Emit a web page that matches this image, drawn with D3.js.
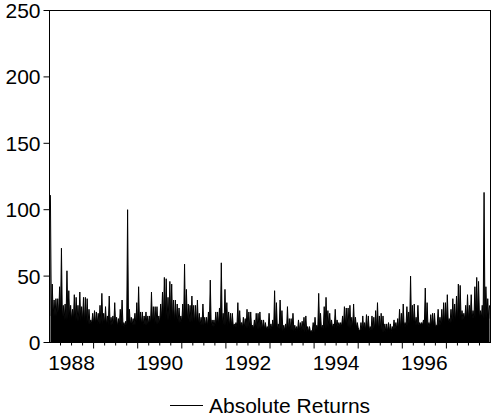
<!DOCTYPE html>
<html>
<head>
<meta charset="utf-8">
<script src="https://cdn.jsdelivr.net/npm/d3@7"></script>
<style>
  body { margin: 0; background: #fff; }
  text { font-family: "Liberation Sans", Arial, sans-serif; fill: #000; }
</style>
</head>
<body>
<div id="chart"></div>
<script>

// semi-monthly peaks of the daily absolute returns (24 per year)
var r1988 = [111,44,32,33,33,42,71,28,29,54,39,28,25,36,34,28,38,27,34,34,33,25,17,22];
var r1989 = [24,23,22,28,37,22,27,20,35,19,20,30,19,18,25,32,15,16,100,25,19,18,22,30];
var r1990 = [42,23,23,20,23,20,20,38,27,27,27,20,29,38,49,48,34,46,44,32,32,29,26,20];
var r1991 = [29,59,40,29,28,35,28,28,32,22,19,29,19,19,23,47,17,17,23,23,26,60,22,40];
var r1992 = [30,23,22,22,14,15,30,24,15,19,18,25,23,23,13,17,22,22,23,17,17,15,12,22];
var r1993 = [14,17,39,30,14,32,24,13,14,27,18,18,22,13,12,17,15,16,19,20,12,12,9,15];
var r1994 = [19,13,37,22,13,27,34,24,22,17,14,25,17,15,15,20,27,26,26,28,19,29,19,15];
var r1995 = [9,15,20,15,21,20,12,20,19,24,30,20,22,20,14,14,15,14,12,17,15,18,25,22];
var r1996 = [29,15,27,23,50,28,29,19,28,15,15,17,41,30,15,21,22,22,13,25,19,25,30,30];
var r1997 = [36,18,25,33,29,35,44,43,24,22,28,36,28,36,24,42,49,46,24,28,113,42,33,28];

// top of the solid black band under the spikes, per quarter
var band1988 = [20,17,16,14];
var band1989 = [14,13,12,13];
var band1990 = [13,14,17,15];
var band1991 = [15,13,12,13];
var band1992 = [12,11,10,10];
var band1993 = [10,9,9,8];
var band1994 = [10,11,12,11];
var band1995 = [9,9,8,10];
var band1996 = [12,13,12,13];
var band1997 = [15,17,18,18];

var years = [1988,1989,1990,1991,1992,1993,1994,1995,1996,1997];
var yearValues = [r1988,r1989,r1990,r1991,r1992,r1993,r1994,r1995,r1996,r1997];
var yearBands = [band1988,band1989,band1990,band1991,band1992,band1993,band1994,band1995,band1996,band1997];
var yearLabels = [1988,1990,1992,1994,1996];
var yTicks = [0,50,100,150,200,250];
var seriesName = "Absolute Returns";

var width = 492, height = 417;
var margin = {top: 10.5, right: 1.5, bottom: 74.5, left: 49.5};

// flatten to [decimal year, value]: each peak, then the band level before the next one
var data = [];
years.forEach(function(yr, i) {
	var vals = yearValues[i];
	var band = yearBands[i];
	vals.forEach(function(v, j) {
		var q = Math.floor(j / (vals.length / band.length));
		data.push([yr + (j + 0.5) / vals.length, v]);
		data.push([yr + (j + 1) / vals.length, Math.min(band[q], v)]);
	});
});
data.pop();

var svg = d3.select("#chart")
	.append("svg")
	.attr("width", width)
	.attr("height", height);

var x = d3.scaleLinear()
	.domain([1988, 1998])
	.range([margin.left, width - margin.right]);

var y = d3.scaleLinear()
	.domain([0, 250])
	.range([height - margin.bottom, margin.top]);

// the series: filled underneath so the dense band stays solid
var area = d3.area()
	.x(function(d) { return x(d[0]); })
	.y0(y(0))
	.y1(function(d) { return y(d[1]); });

var line = d3.line()
	.x(function(d) { return x(d[0]); })
	.y(function(d) { return y(d[1]); });

svg.append("path")
	.datum(data)
	.attr("d", area)
	.attr("fill", "#000");

svg.append("path")
	.datum(data)
	.attr("d", line)
	.attr("fill", "none")
	.attr("stroke", "#000")
	.attr("stroke-width", 1);

// frame
svg.append("rect")
	.attr("x", x(1988))
	.attr("y", y(250))
	.attr("width", x(1998) - x(1988))
	.attr("height", y(0) - y(250))
	.attr("fill", "none")
	.attr("stroke", "#000")
	.attr("stroke-width", 1);

// y axis (frame already draws the spine)
var yAxis = svg.append("g")
	.attr("transform", "translate(" + x(1988) + ",0)")
	.call(d3.axisLeft(y).tickValues(yTicks).tickSize(6).tickPadding(3).offset(0));

yAxis.select(".domain").remove();
yAxis.selectAll(".tick line").attr("stroke", "#000");
yAxis.selectAll(".tick text")
	.attr("dy", "0.36em")
	.style("font-size", "21px");

// x axis: quarter ticks, year ticks, labels centred on the year
var quarters = d3.range(1988, 1998.01, 0.25).filter(function(t) { return t % 1 !== 0; });
var yearTicks = d3.range(1989, 1998);

var xMinor = svg.append("g")
	.attr("transform", "translate(0," + y(0) + ")")
	.call(d3.axisBottom(x).tickValues(quarters).tickSize(3).tickFormat("").offset(0));
xMinor.select(".domain").remove();
xMinor.selectAll(".tick line").attr("stroke", "#000");

var xMajor = svg.append("g")
	.attr("transform", "translate(0," + y(0) + ")")
	.call(d3.axisBottom(x).tickValues(yearTicks).tickSize(6).tickFormat("").offset(0));
xMajor.select(".domain").remove();
xMajor.selectAll(".tick line").attr("stroke", "#000");

svg.selectAll(".year-label")
	.data(yearLabels)
	.enter()
	.append("text")
	.attr("class", "year-label")
	.attr("x", function(d) { return x(d + 0.5); })
	.attr("y", y(0) + 27)
	.attr("text-anchor", "middle")
	.style("font-size", "21px")
	.text(function(d) { return d; });

// legend
var legend = svg.append("g")
	.attr("transform", "translate(170,405.5)");

legend.append("line")
	.attr("x1", 0)
	.attr("x2", 33)
	.attr("y1", 0)
	.attr("y2", 0)
	.attr("stroke", "#000")
	.attr("stroke-width", 1);

legend.append("text")
	.attr("x", 39)
	.attr("y", 0)
	.attr("dy", "0.36em")
	.style("font-size", "21px")
	.text(seriesName);

</script>
</body>
</html>
